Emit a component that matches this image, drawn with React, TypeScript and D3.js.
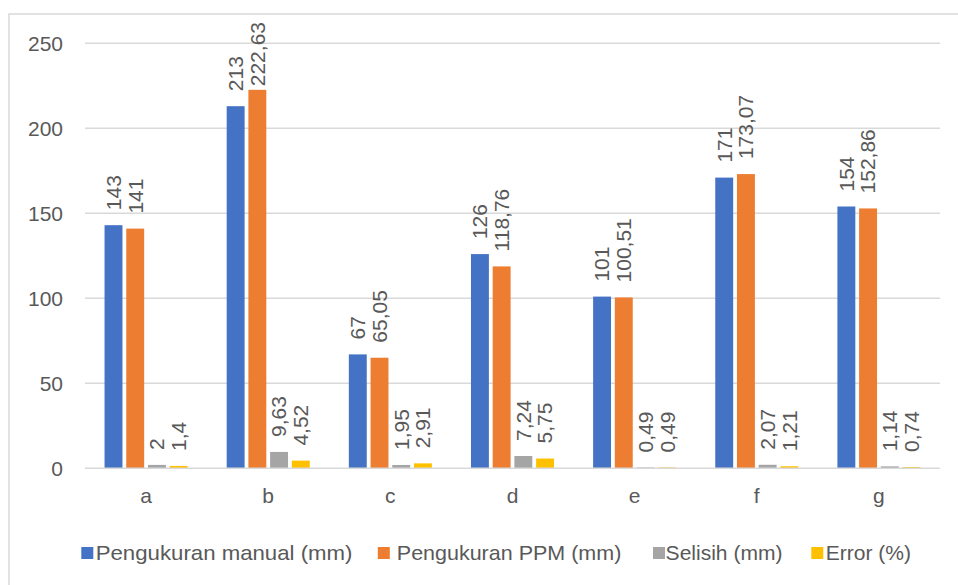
import React, { useEffect, useRef } from "react";
import * as d3 from "d3";

const categories = ["a", "b", "c", "d", "e", "f", "g"];
const seriesNames = ["Pengukuran manual (mm)", "Pengukuran PPM (mm)", "Selisih (mm)", "Error (%)"];
const manual = [143, 213, 67, 126, 101, 171, 154];
const ppm = [141, 222.63, 65.05, 118.76, 100.51, 173.07, 152.86];
const selisih = [2, 9.63, 1.95, 7.24, 0.49, 2.07, 1.14];
const errorPct = [1.4, 4.52, 2.91, 5.75, 0.49, 1.21, 0.74];
const yTicks = [0, 50, 100, 150, 200, 250];
const colors = ["#4472C4", "#ED7D31", "#A5A5A5", "#FFC000"];

const W = 958;
const H = 585;
const FONT = "'Liberation Sans', Arial, sans-serif";
const FS = 21;
const TXT = "#595959";

export default function App() {
  const ref = useRef<SVGSVGElement | null>(null);

  useEffect(() => {
    const svg = d3.select(ref.current);
    svg.selectAll("*").remove();
    const series = [manual, ppm, selisih, errorPct];

    const left = 85, right = 940, top = 43.3, bottom = 468.3;
    const x0 = d3.scaleBand<string>().domain(categories).range([left, right]).paddingInner(0.32).paddingOuter(0.16);
    const x1 = d3.scaleBand<number>().domain([0, 1, 2, 3]).range([0, x0.bandwidth()]).paddingInner(0.175).paddingOuter(0);
    const y = d3.scaleLinear().domain([0, 250]).range([bottom, top]);

    // outer border
    svg.append("rect").attr("x", 9).attr("y", 14).attr("width", 1000).attr("height", 700)
      .attr("fill", "#fff").attr("stroke", "#d9d9d9").attr("stroke-width", 1.5);

    // gridlines
    svg.append("g").selectAll("line").data(yTicks.filter(t => t !== 0)).join("line")
      .attr("x1", left).attr("x2", right)
      .attr("y1", d => y(d)).attr("y2", d => y(d))
      .attr("stroke", "#d9d9d9").attr("stroke-width", 1.5);

    // y tick labels
    svg.append("g").selectAll("text").data(yTicks).join("text")
      .attr("x", 63).attr("y", d => y(d)).attr("dy", "0.35em")
      .attr("text-anchor", "end").attr("font-family", FONT).attr("font-size", FS).attr("fill", TXT)
      .text(d => String(d));

    // bars
    const fmt = (v: number) => String(v).replace(".", ",");
    series.forEach((vals, si) => {
      const g = svg.append("g");
      g.selectAll("rect").data(vals).join("rect")
        .attr("x", (d, i) => (x0(categories[i]) as number) + (x1(si) as number))
        .attr("width", x1.bandwidth())
        .attr("y", d => y(d))
        .attr("height", d => y(0) - y(d))
        .attr("fill", colors[si]);
    });

    // axis line at 0
    svg.append("line").attr("x1", left).attr("x2", right).attr("y1", y(0)).attr("y2", y(0))
      .attr("stroke", "#d9d9d9").attr("stroke-width", 1.5);

    // data labels
    series.forEach((vals, si) => {
      const g = svg.append("g");
      vals.forEach((v, i) => {
        const cx = (x0(categories[i]) as number) + (x1(si) as number) + x1.bandwidth() / 2;
        const t = g.append("text")
          .attr("font-family", FONT).attr("font-size", FS).attr("fill", TXT)
          .attr("text-anchor", "start").attr("dy", "0.35em")
          .text(fmt(v));
        const len = (t.node() as SVGTextElement).getComputedTextLength();
        let base = y(v) - 15;
        if (base - len < 22) base = 22 + len;
        t.attr("transform", `translate(${cx},${base}) rotate(-90)`);
      });
    });

    // category labels
    svg.append("g").selectAll("text").data(categories).join("text")
      .attr("x", d => (x0(d) as number) + x0.bandwidth() / 2).attr("y", 503)
      .attr("text-anchor", "middle").attr("font-family", FONT).attr("font-size", FS).attr("fill", TXT)
      .text(d => d);

    // legend
    const markerX = [81.3, 377.8, 653, 811.3];
    const textX = [95.7, 396.8, 665.6, 825.7];
    const textEnd = [352.5, 621.3, 782.5, 911];
    seriesNames.forEach((name, i) => {
      svg.append("rect").attr("x", markerX[i]).attr("y", 547).attr("width", 12).attr("height", 12)
        .attr("fill", colors[i]);
      svg.append("text").attr("x", textX[i]).attr("y", 553).attr("dy", "0.35em")
        .attr("font-family", FONT).attr("font-size", FS).attr("fill", TXT)
        .attr("textLength", textEnd[i] - textX[i]).attr("lengthAdjust", "spacingAndGlyphs")
        .text(name);
    });
  }, []);

  return (
    <svg ref={ref} width={W} height={H} style={{ position: "absolute", left: 0, top: 0, background: "#fff" }} />
  );
}
